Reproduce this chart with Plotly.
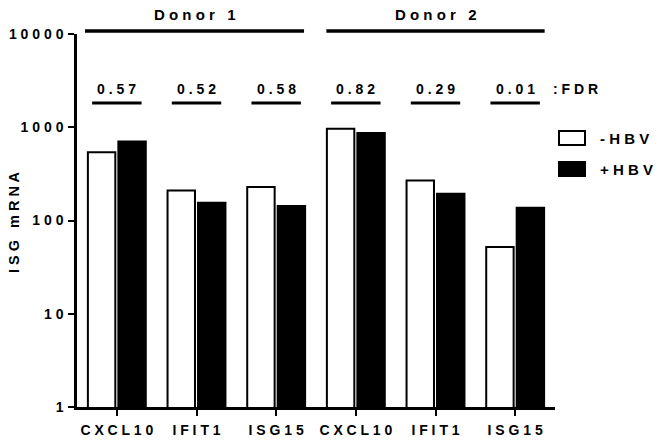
import plotly.graph_objects as go

# ISG expression per gene and donor, with and without HBV
genes = ["CXCL10", "IFIT1", "ISG15", "CXCL10", "IFIT1", "ISG15"]
donors = ["Donor 1", "Donor 2"]
minus_hbv = [541, 210, 228, 964, 269, 52]
plus_hbv = [705, 155, 143, 865, 194, 137]
fdr = ["0.57", "0.52", "0.58", "0.82", "0.29", "0.01"]
y_ticks = [1, 10, 100, 1000, 10000]

W, H = 659, 443
L, R, T, B = 77, 555, 34, 407  # plot area in pixels

FONT = "Liberation Sans, Arial, sans-serif"


def spaced(s):
    # wide letter spacing used throughout the figure
    return "   ".join(" ".join(word) for word in s.split(" "))


def px_x(x):
    return (x - L) / (R - L)


def px_y(y):
    return (B - y) / (B - T)


def label(x, y, text, size=14, xref="paper", **kw):
    return dict(xref=xref, yref="paper", x=x, y=y, text=text, showarrow=False,
                xanchor=kw.pop("xanchor", "center"), yanchor="middle",
                font=dict(size=size, family=FONT, color="black", weight="bold"), **kw)


xs = list(range(len(genes)))

fig = go.Figure()
fig.add_trace(go.Bar(
    x=xs, y=minus_hbv, name="-HBV",
    marker=dict(color="white", line=dict(color="black", width=2)),
))
fig.add_trace(go.Bar(
    x=xs, y=plus_hbv, name="+HBV",
    marker=dict(color="black", line=dict(color="black", width=2)),
))

shapes = []
annotations = []

# donor brackets
donor_spans = [(-0.4, 2.35), (2.63, 5.37)]
for name, (a, b) in zip(donors, donor_spans):
    shapes.append(dict(type="line", xref="x", yref="paper", x0=a, x1=b,
                       y0=px_y(31), y1=px_y(31), line=dict(color="black", width=3.5)))
    annotations.append(label((a + b) / 2, px_y(15), spaced(name), size=15, xref="x"))

# FDR bars and values
for i, v in enumerate(fdr):
    shapes.append(dict(type="line", xref="x", yref="paper", x0=i - 0.31, x1=i + 0.31,
                       y0=px_y(103), y1=px_y(103), line=dict(color="black", width=3)))
    annotations.append(label(i, px_y(89), spaced(v), xref="x"))
annotations.append(label(px_x(575), px_y(89), spaced(":FDR")))

# legend
legend_items = [("-HBV", "white", 138), ("+HBV", "black", 169)]
for text, color, yc in legend_items:
    shapes.append(dict(type="rect", xref="paper", yref="paper",
                       x0=px_x(559), x1=px_x(585), y0=px_y(yc + 7), y1=px_y(yc - 7),
                       fillcolor=color, line=dict(color="black", width=2)))
    annotations.append(label(px_x(598), px_y(yc), spaced(text), size=15, xanchor="left"))

# y-axis title
annotations.append(label(px_x(14), px_y(222), spaced("ISG mRNA"), size=14.5, textangle=-90))

fig.update_layout(
    width=W, height=H,
    margin=dict(l=L, r=W - R, t=T, b=H - B, pad=0, autoexpand=False),
    paper_bgcolor="white", plot_bgcolor="white",
    barmode="group", bargap=0.235, bargroupgap=0.1,
    showlegend=False,
    shapes=shapes, annotations=annotations,
    font=dict(family=FONT, color="black", size=14, weight="bold"),
)
fig.update_xaxes(
    range=[-0.5, 5.5], tickvals=xs, ticktext=[spaced(g) for g in genes],
    showline=True, linecolor="black", linewidth=2.5,
    ticks="outside", ticklen=6, tickwidth=2, tickcolor="black",
    showgrid=False, zeroline=False, automargin=False, ticklabelstandoff=2,
    tickfont=dict(size=14, family=FONT, color="black", weight="bold"),
)
fig.update_yaxes(
    type="log", range=[0, 4], tickvals=y_ticks,
    ticktext=[spaced(str(t)) for t in y_ticks],
    showline=True, linecolor="black", linewidth=2.5,
    ticks="outside", ticklen=6, tickwidth=2, tickcolor="black",
    showgrid=False, zeroline=False, automargin=False, ticklabelstandoff=2,
    tickfont=dict(size=14, family=FONT, color="black", weight="bold"),
)

fig.write_html("out.html")
